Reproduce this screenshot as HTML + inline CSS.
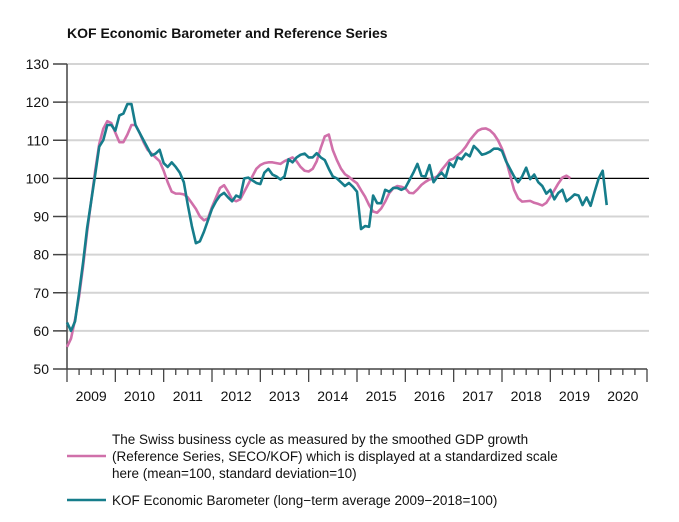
<!DOCTYPE html>
<html><head><meta charset="utf-8"><style>
body{margin:0;background:#fff;font-family:"Liberation Sans",Arial,sans-serif;}
svg text{font-family:"Liberation Sans",Arial,sans-serif;fill:#111;}
</style></head><body>
<svg id="chart" width="679" height="517" viewBox="0 0 679 517" xmlns="http://www.w3.org/2000/svg">
<text x="67" y="38" font-size="14" font-weight="bold">KOF Economic Barometer and Reference Series</text>
<g id="grid"></g><g id="axes"></g><g id="series"></g>
<g>
<line x1="67" y1="456" x2="106" y2="456" stroke="#d070aa" stroke-width="2.5"/>
<text font-size="13.5"><tspan x="112" y="444">The Swiss business cycle as measured by the smoothed GDP growth</tspan><tspan x="112" y="461">(Reference Series, SECO/KOF) which is displayed at a standardized scale</tspan><tspan x="112" y="478">here (mean=100, standard deviation=10)</tspan></text>
<line x1="67" y1="500" x2="106" y2="500" stroke="#167d8b" stroke-width="2.5"/>
<text x="112" y="505" font-size="13.5">KOF Economic Barometer (long−term average 2009−2018=100)</text>
</g>
</svg>
<script>
const yTicks=[50,60,70,80,90,100,110,120,130];
const years=["2009","2010","2011","2012","2013","2014","2015","2016","2017","2018","2019","2020"];
const barometer=[62.2,60,62.5,70,78,87,94,101,108.3,110,114,114,112.5,116.5,117,119.5,119.5,114,112,110,108,106,106.5,107.5,104,103,104.2,103,101.5,99,93,87.5,83,83.5,86,89,92,94,95.5,96.2,95,94,95.5,95,100,100.2,99.5,98.8,98.5,101.5,102.5,101,100.5,99.7,100.5,105,104.2,105.5,106.2,106.5,105.5,105.5,106.6,105.5,104.8,102.5,100.5,100,99,98,98.8,97.8,96.5,86.7,87.5,87.3,95.5,93.5,93.5,97,96.5,97.5,97.5,97,97.5,99.5,101.5,103.8,100.7,100.5,103.5,99,100.5,101.5,100.2,104,103,105.5,105,106.5,105.8,108.5,107.5,106.2,106.5,107,107.8,107.8,107.2,104.5,102.5,100.5,99,100.5,102.8,99.8,101,99,98,96,97,94.5,96.2,97,94,94.8,95.8,95.5,93,95,92.8,96.5,100,102,93];
const reference=[55.8,58,63,69,77,86,94,102,109,113,115,114.5,112,109.5,109.5,111.5,114,114,112,109.5,107.5,106.5,105.5,104.5,102,99,96.5,96,96,95.8,95,93.5,92,90,89,89.5,92.5,95,97.5,98.2,96.5,94.5,94,94.5,96.5,98.5,100.5,102.5,103.5,104,104.2,104.2,104,103.8,104.5,105,105.5,104.5,103,102,101.8,102.5,104.5,108,111,111.5,107.4,104.8,102.6,101.1,100.4,99.5,98.7,96.9,95.2,93,91.3,91,92.1,93.9,96.1,97.4,98,97.8,97.4,96.2,96.1,97.1,98.3,99.1,99.7,100,100.6,102.2,103.5,104.8,105.2,106.1,107,108.3,110,111.3,112.5,113,113.1,112.6,111.6,110,107.8,104.8,100.9,97,94.8,93.9,94,94.1,93.6,93.3,92.9,93.6,95.2,96.9,98.7,100.2,100.7,100];
const NS="http://www.w3.org/2000/svg";
const X0=67,X1=647,Y0=369,Y1=64;
const x=m=>X0+m*(X1-X0)/144;
const y=v=>Y0-(v-50)*(Y0-Y1)/80;
function mk(tag,parent,attrs){const e=document.createElementNS(NS,tag);for(const k in attrs)e.setAttribute(k,attrs[k]);parent.appendChild(e);return e;}
const grid=document.getElementById('grid'),axes=document.getElementById('axes'),ser=document.getElementById('series');
yTicks.forEach(v=>{
  if(v!==50&&v!==100){const g=mk('line',grid,{x1:X0,x2:649,y1:y(v),y2:y(v),stroke:'#d4d4d4','stroke-width':2});
  
  }
  const t=mk('line',axes,{x1:53,x2:X0,y1:y(v),y2:y(v),stroke:'#444','stroke-width':1.5});
  
  
  const l=mk('text',axes,{x:49,y:y(v)+5,'text-anchor':'end','font-size':14});
  l.textContent=v;
  
  
});
const ref=mk('line',axes,{x1:X0,x2:649,y1:y(100),y2:y(100),stroke:'#000','stroke-width':1.2});


const ya=mk('line',axes,{x1:X0,x2:X0,y1:Y1,y2:Y0,stroke:'#444','stroke-width':1.5});


const xa=mk('line',axes,{x1:X0,x2:X1,y1:Y0,y2:Y0,stroke:'#444','stroke-width':1.5});


for(let q=0;q<=48;q++){
  const tk=mk('line',axes,{x1:x(q*3),x2:x(q*3),y1:Y0,y2:Y0+(q%4===0?13:6),stroke:'#444','stroke-width':1.3});
  
  
}
years.forEach((yr,i)=>{
  const t=mk('text',axes,{x:x(i*12+6),y:401,'text-anchor':'middle','font-size':14});
  t.textContent=yr;
  
  
});
function line(data,color,name){
  const d=data.map((v,i)=>(i?'L':'M')+x(i).toFixed(2)+','+y(v).toFixed(2)).join('');
  const p=mk('path',ser,{d:d,fill:'none',stroke:color,'stroke-width':2.6,'stroke-linejoin':'round'});
  
  
}
line(reference,'#d070aa','reference-series-line');
line(barometer,'#167d8b','barometer-line');
</script>
</body></html>
